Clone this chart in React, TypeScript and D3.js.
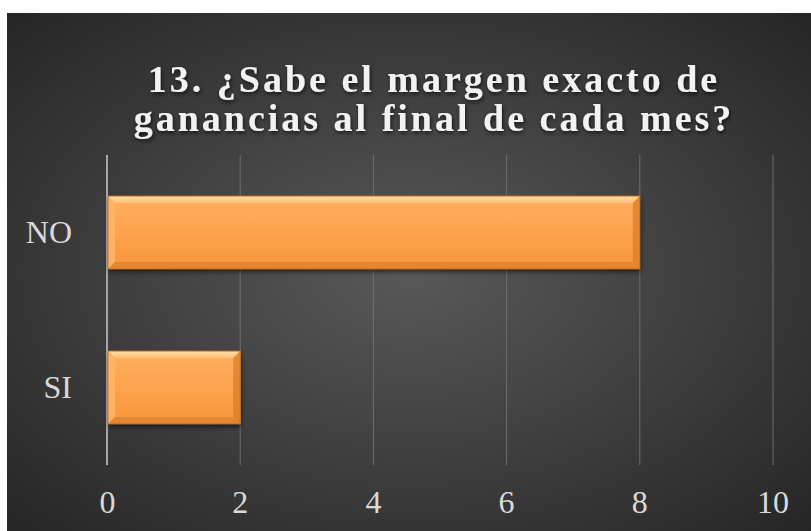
import * as d3 from 'd3';

const categories = ['NO', 'SI'];
const values = [8, 2];
const xTicks = [0, 2, 4, 6, 8, 10];
const titleLines = ['13. ¿Sabe el margen exacto de', 'ganancias al final de cada mes?'];

export default function App() {
  const W = 811;
  const H = 531;
  const plot = { left: 107, right: 773, top: 155, bottom: 465 };

  const x = d3.scaleLinear().domain([0, 10]).range([plot.left, plot.right]);
  const y = d3
    .scaleBand()
    .domain(categories)
    .range([plot.top, plot.bottom])
    .paddingInner(0.53)
    .paddingOuter(0.265);

  const font = '"Liberation Serif", "Times New Roman", serif';
  const bw = y.bandwidth();
  const bev = 7;

  return (
    <svg
      width={W}
      height={H}
      style={{ position: 'absolute', left: 0, top: 0 }}
    >
      <defs>
        <radialGradient id="bg" cx="50%" cy="50%" r="70%">
          <stop offset="0%" stopColor="#595959" />
          <stop offset="100%" stopColor="#262626" />
        </radialGradient>
        <linearGradient id="barFill" x1="0" y1="0" x2="0" y2="1">
          <stop offset="0%" stopColor="#ffb060" />
          <stop offset="100%" stopColor="#f9963a" />
        </linearGradient>
        <linearGradient id="bevTop" x1="0" y1="0" x2="0" y2="1">
          <stop offset="0%" stopColor="#ffe9b0" />
          <stop offset="100%" stopColor="#ffc07a" />
        </linearGradient>
        <filter id="shadow" x="-10%" y="-20%" width="120%" height="160%">
          <feDropShadow dx="1" dy="3" stdDeviation="2.5" floodColor="#000" floodOpacity="0.55" />
        </filter>
        <filter id="tshadow" x="-5%" y="-20%" width="110%" height="160%">
          <feDropShadow dx="1" dy="2" stdDeviation="2" floodColor="#000" floodOpacity="0.7" />
        </filter>
      </defs>

      <rect x={7} y={13} width={W - 7} height={H - 13} fill="url(#bg)" />

      {/* gridlines */}
      {xTicks.map((t) => (
        <line
          key={t}
          x1={x(t)}
          x2={x(t)}
          y1={plot.top}
          y2={plot.bottom}
          stroke={t === 0 ? '#a6a6a6' : '#6e6e6e'}
          strokeWidth={t === 0 ? 2 : 1}
        />
      ))}

      {/* bars */}
      {categories.map((c, i) => {
        const x0 = x(0) + 1;
        const x1 = x(values[i]);
        const y0 = y(c) as number;
        const y1 = y0 + bw;
        return (
          <g key={c}>
            <rect x={x0} y={y0} width={x1 - x0} height={bw} fill="url(#barFill)" filter="url(#shadow)" />
            {/* top bevel */}
            <polygon
              points={`${x0},${y0} ${x1},${y0} ${x1 - bev},${y0 + bev} ${x0 + bev},${y0 + bev}`}
              fill="url(#bevTop)"
              opacity={0.85}
            />
            {/* left bevel */}
            <polygon
              points={`${x0},${y0} ${x0 + bev},${y0 + bev} ${x0 + bev},${y1 - bev} ${x0},${y1}`}
              fill="#ffb86c"
              opacity={0.8}
            />
            {/* right bevel */}
            <polygon
              points={`${x1},${y0} ${x1},${y1} ${x1 - bev},${y1 - bev} ${x1 - bev},${y0 + bev}`}
              fill="#d97a25"
              opacity={0.7}
            />
            {/* bottom bevel */}
            <polygon
              points={`${x0},${y1} ${x0 + bev},${y1 - bev} ${x1 - bev},${y1 - bev} ${x1},${y1}`}
              fill="#d9822f"
              opacity={0.75}
            />
            <rect x={x0} y={y0} width={x1 - x0} height={bw} fill="none" stroke="#c9732a" strokeWidth={1} />
          </g>
        );
      })}

      {/* category labels */}
      {categories.map((c) => (
        <text
          key={c}
          x={72}
          y={(y(c) as number) + bw / 2 + 10.5}
          textAnchor="end"
          fontFamily={font}
          fontSize={32}
          fill="#d9d9d9"
        >
          {c}
        </text>
      ))}

      {/* x tick labels */}
      {xTicks.map((t) => (
        <text
          key={t}
          x={x(t) + (t === 0 ? 0.5 : 0)}
          y={513}
          textAnchor="middle"
          fontFamily={font}
          fontSize={32}
          fill="#d9d9d9"
        >
          {t}
        </text>
      ))}

      {/* title */}
      {titleLines.map((l, i) => (
        <text
          key={i}
          x={434}
          y={92 + i * 39}
          textAnchor="middle"
          fontFamily={font}
          fontWeight="bold"
          fontSize={38}
          letterSpacing={3}
          fill="#f2f2f2"
          filter="url(#tshadow)"
        >
          {l}
        </text>
      ))}
    </svg>
  );
}
